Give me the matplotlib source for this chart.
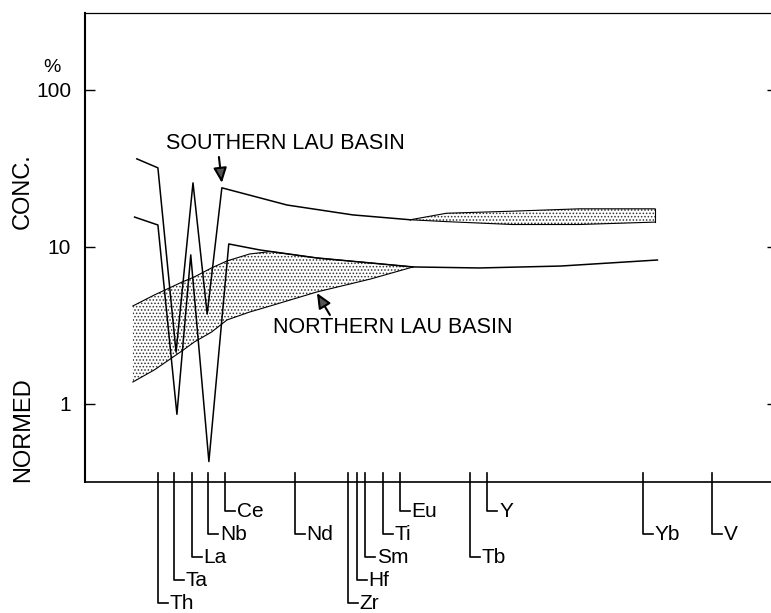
import numpy as np
import matplotlib.pyplot as plt

plt.rcParams['font.family'] = ['Liberation Sans', 'DejaVu Sans']
plt.rcParams['hatch.linewidth'] = 0.7

# elements along the bottom, x in "element slots"
elements = ['Th', 'Ta', 'La', 'Nb', 'Ce', 'Nd', 'Zr', 'Hf', 'Sm', 'Ti',
            'Eu', 'Tb', 'Y', 'Yb', 'V']
element_x = [0, 0.93, 1.95, 2.91, 3.88, 7.93, 10.98, 11.5, 11.98, 13.0,
             14.0, 18.06, 19.06, 28.07, 32.06]

# southern lau basin
south_x = [-1.22, 0, 1.05, 2.03, 2.85, 3.7, 7.47, 11.28, 14.6]
south_y = [36.4, 31.9, 2.14, 25.6, 3.74, 23.8, 18.5, 16.0, 14.9]
south_band_x = [14.6, 16.7, 20.5, 24.4, 28.76]
south_band_hi = [14.9, 16.4, 16.9, 17.5, 17.5]
south_band_lo = [14.9, 14.5, 13.9, 13.9, 14.4]

# northern lau basin
north_x = [-1.35, 0, 1.1, 1.9, 2.95, 4.1, 5.9, 9.2, 12.3, 14.76, 18.6, 23.3, 28.9]
north_y = [15.5, 13.8, 0.86, 8.9, 0.43, 10.45, 9.57, 8.51, 7.91, 7.46, 7.35, 7.56, 8.26]
north_band_x = [-1.45, -0.2, 1.4, 2.1, 3.1, 4.0, 5.3, 6.5, 9.2, 12.3, 14.76]
north_band_hi = [4.21, 4.95, 5.98, 6.44, 7.35, 8.15, 9.02, 9.35, 8.51, 7.91, 7.46]
north_band_lo = [1.38, 1.65, 2.18, 2.48, 2.87, 3.43, 3.85, 4.21, 5.17, 6.25, 7.46]

yticks = [1, 10, 100]
ytick_labels = ['1', '10', '100']

# how far down each element label hangs (layout only)
label_level = [4, 3, 2, 1, 0, 1, 4, 3, 2, 1, 0, 2, 0, 1, 1]

fig = plt.figure(figsize=(7.71, 6.13), dpi=100)
ax = fig.add_axes([0.1102, 0.2137, 0.8898, 0.7651])

ax.set_yscale('log')
ax.set_ylim(0.3186, 309)
ax.set_xlim(-4.22, 35.47)

lw = 1.1
ax.fill_between(north_band_x, north_band_lo, north_band_hi, facecolor='white',
                edgecolor='#333333', hatch='.....', linewidth=0)
ax.plot(north_band_x, north_band_hi, color='black', lw=0.8)
ax.plot(north_band_x, north_band_lo, color='black', lw=0.8)

ax.fill_between(south_band_x, south_band_lo, south_band_hi, facecolor='white',
                edgecolor='#333333', hatch='.....', linewidth=0)
ax.plot(south_band_x, south_band_hi, color='black', lw=0.8)
ax.plot(south_band_x, south_band_lo, color='black', lw=0.8)
ax.plot([south_band_x[-1]] * 2, [south_band_lo[-1], south_band_hi[-1]],
        color='black', lw=0.8)

ax.plot(south_x, south_y, color='black', lw=lw)
ax.plot(north_x, north_y, color='black', lw=lw)

ax.text(0.46, 45.9, 'SOUTHERN LAU BASIN', fontsize=15.5, ha='left', va='center')
ax.text(6.66, 3.05, 'NORTHERN LAU BASIN', fontsize=15.5, ha='left', va='center')

arrow = dict(arrowstyle='-|>,head_length=0.9,head_width=0.4', lw=1.5,
             color='black', fc='#555555', shrinkA=0, shrinkB=0)
ax.annotate('', xy=(3.7, 25.6), xytext=(3.53, 37.4), arrowprops=arrow)
ax.annotate('', xy=(9.2, 5.09), xytext=(9.95, 3.69), arrowprops=arrow)

# element labels hanging below the axis
tr = ax.get_xaxis_transform()
for name, xe, lev in zip(elements, element_x, label_level):
    yb = -0.062 - 0.049 * lev
    ax.plot([xe, xe, xe + 0.58], [0.019, yb, yb], color='black', lw=1.2,
            transform=tr, clip_on=False)
    ax.text(xe + 0.68, yb, name, fontsize=15, ha='left', va='center',
            transform=tr)

ax.set_xticks([])
ax.set_yticks(yticks)
ax.set_yticklabels(ytick_labels, fontsize=15)
ax.minorticks_off()
ax.tick_params(axis='y', which='major', direction='in', length=7.2, width=1.0,
               pad=10, left=True, right=False)

ax2 = ax.twinx()
ax2.set_yscale('log')
ax2.set_ylim(ax.get_ylim())
ax2.set_yticks(yticks)
ax2.set_yticklabels([])
ax2.minorticks_off()
ax2.tick_params(axis='y', direction='in', length=3, width=1.0)
for s in ax2.spines.values():
    s.set_visible(False)

ax.spines['right'].set_visible(False)
ax.spines['top'].set_linewidth(0.9)
ax.spines['bottom'].set_linewidth(1.2)
ax.spines['left'].set_linewidth(1.5)

fig.text(0.0674, 0.8907, '%', fontsize=14, ha='center', va='center')
fig.text(0.0298, 0.6884, 'CONC.', fontsize=17, rotation=90, ha='center', va='center')
fig.text(0.0298, 0.2985, 'NORMED', fontsize=17, rotation=90, ha='center', va='center')

fig.savefig('out.png', dpi=100)
